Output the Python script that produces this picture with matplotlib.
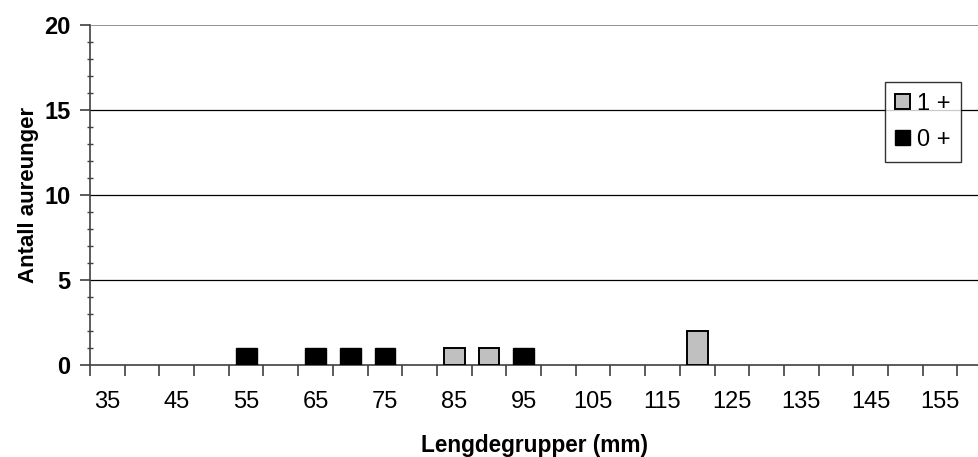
import numpy as np
import matplotlib.pyplot as plt
from matplotlib.ticker import MultipleLocator

plt.rcParams['font.family'] = ['Liberation Sans', 'DejaVu Sans']

# length groups (mm) and counts per age class
lengths = list(range(35, 165, 5))
age0 = [0, 0, 0, 0, 1, 0, 1, 1, 1, 0, 0, 0, 1, 0, 0, 0, 0, 0, 0, 0, 0, 0, 0, 0, 0, 0]
age1 = [0, 0, 0, 0, 0, 0, 0, 0, 0, 0, 1, 1, 0, 0, 0, 0, 0, 2, 0, 0, 0, 0, 0, 0, 0, 0]
series_names = ['0 +', '1 +']

x = np.arange(len(lengths))
a0 = np.array(age0)
a1 = np.array(age1)

fig = plt.figure(figsize=(9.79, 4.57), dpi=100)
ax = fig.add_axes([90 / 979, 1 - 365 / 457, 889 / 979, 340 / 457])

w = 0.6
m0 = a0 > 0
m1 = a1 > 0
b0 = ax.bar(x[m0], a0[m0], width=w, color='black', edgecolor='black', linewidth=1, zorder=3)
b1 = ax.bar(x[m1], a1[m1], width=w, bottom=a0[m1], color='#c0c0c0', edgecolor='black',
            linewidth=1.4, zorder=3)

ax.set_xlim(-0.5, 25.12)
ax.set_ylim(0, 20)

# horizontal gridlines
for yv in (5, 10, 15):
    ax.axhline(yv, color='black', linewidth=0.9, zorder=1)
ax.axhline(20, color='#808080', linewidth=1.2, zorder=1)

for s in ('top', 'right'):
    ax.spines[s].set_visible(False)
ax.spines['left'].set_color('#404040')
ax.spines['left'].set_linewidth(1.2)
ax.spines['bottom'].set_color('#404040')
ax.spines['bottom'].set_linewidth(1.2)

# y axis ticks
ax.yaxis.set_major_locator(MultipleLocator(5))
ax.yaxis.set_minor_locator(MultipleLocator(1))
ax.tick_params(axis='y', which='major', direction='out', length=7, width=1.2,
               color='#404040', pad=7, labelsize=17)
ax.tick_params(axis='y', which='minor', direction='inout', length=5, width=1,
               color='#404040')
for lbl in ax.get_yticklabels():
    lbl.set_fontweight('bold')

# x axis: labels on every other group, ticks between groups
ax.set_xticks(x[::2])
ax.set_xticklabels([str(v) for v in lengths[::2]])
ax.set_xticks(np.arange(-0.5, 25, 1), minor=True)
ax.tick_params(axis='x', which='major', length=0, pad=19, labelsize=17)
ax.tick_params(axis='x', which='minor', direction='out', length=8, width=1.2,
               color='#404040')

ax.set_ylabel('Antall aureunger', fontsize=16, fontweight='bold', labelpad=4)
ax.set_xlabel('Lengdegrupper (mm)', fontsize=16.3, fontweight='bold', labelpad=15)

leg = ax.legend([b1, b0], [series_names[1], series_names[0]], loc='upper left',
                bbox_to_anchor=(0.894, 0.832), borderaxespad=0, fontsize=17,
                frameon=True, fancybox=False, handlelength=0.6, handleheight=0.6,
                handletextpad=0.3, borderpad=0.45, labelspacing=0.6)
leg.get_frame().set_edgecolor('black')
leg.get_frame().set_linewidth(1)

fig.savefig('out.png', dpi=100)
